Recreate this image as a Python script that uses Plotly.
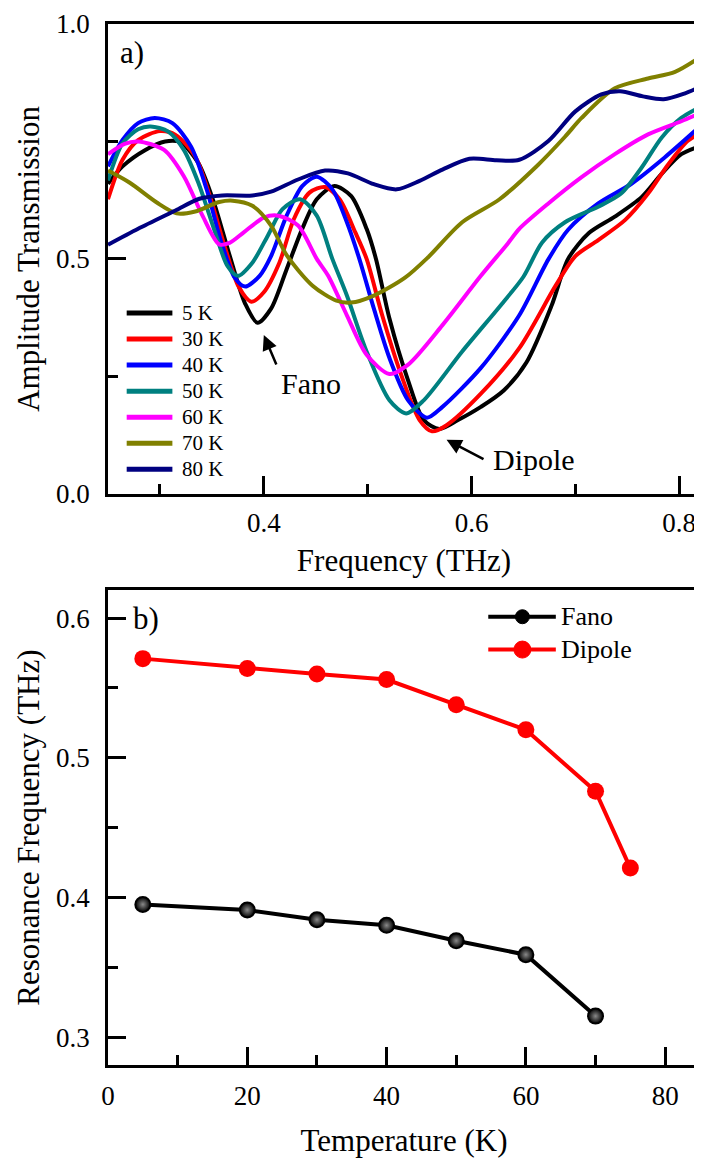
import plotly.graph_objects as go

# ---------------- Data: panel a) amplitude transmission ----------------
f_5K = [0.250, 0.264, 0.286, 0.305, 0.320, 0.337, 0.352, 0.367, 0.382, 0.394, 0.407, 0.422, 0.437, 0.451,
        0.468, 0.484, 0.499, 0.508, 0.521, 0.539, 0.554, 0.569, 0.587, 0.609, 0.631, 0.653, 0.677, 0.693,
        0.713, 0.738, 0.764, 0.783, 0.802, 0.820]
t_5K = [0.660, 0.697, 0.732, 0.750, 0.748, 0.704, 0.620, 0.508, 0.405, 0.364, 0.394, 0.478, 0.564, 0.627,
        0.655, 0.634, 0.564, 0.500, 0.373, 0.241, 0.157, 0.138, 0.157, 0.185, 0.220, 0.280, 0.400, 0.500,
        0.555, 0.590, 0.632, 0.681, 0.723, 0.740]

f_30K = [0.250, 0.264, 0.279, 0.300, 0.315, 0.334, 0.348, 0.363, 0.376, 0.388, 0.400, 0.415, 0.429, 0.444,
         0.459, 0.473, 0.488, 0.499, 0.514, 0.532, 0.550, 0.562, 0.576, 0.609, 0.646, 0.681, 0.700, 0.722,
         0.748, 0.770, 0.789, 0.808, 0.820]
t_30K = [0.627, 0.711, 0.753, 0.772, 0.764, 0.718, 0.634, 0.522, 0.440, 0.409, 0.429, 0.492, 0.585, 0.641,
         0.653, 0.627, 0.557, 0.500, 0.380, 0.255, 0.157, 0.133, 0.146, 0.213, 0.310, 0.443, 0.506, 0.540,
         0.583, 0.639, 0.700, 0.751, 0.767]

f_40K = [0.250, 0.264, 0.279, 0.295, 0.312, 0.330, 0.345, 0.359, 0.372, 0.382, 0.396, 0.407, 0.422, 0.437,
         0.451, 0.466, 0.480, 0.492, 0.506, 0.521, 0.539, 0.557, 0.572, 0.609, 0.646, 0.674, 0.693, 0.722,
         0.754, 0.786, 0.820]
t_40K = [0.697, 0.753, 0.789, 0.800, 0.789, 0.739, 0.648, 0.536, 0.460, 0.441, 0.464, 0.506, 0.592, 0.655,
         0.675, 0.648, 0.578, 0.500, 0.394, 0.289, 0.199, 0.162, 0.185, 0.268, 0.380, 0.499, 0.562, 0.618,
         0.660, 0.716, 0.782]

f_50K = [0.250, 0.264, 0.279, 0.291, 0.308, 0.323, 0.337, 0.352, 0.365, 0.375, 0.389, 0.404, 0.418, 0.435,
         0.451, 0.466, 0.480, 0.499, 0.521, 0.537, 0.554, 0.591, 0.628, 0.650, 0.668, 0.690, 0.722, 0.744,
         0.764, 0.783, 0.802, 0.820]
t_50K = [0.667, 0.746, 0.776, 0.782, 0.771, 0.732, 0.662, 0.564, 0.485, 0.464, 0.492, 0.550, 0.606, 0.627,
         0.592, 0.500, 0.422, 0.303, 0.199, 0.171, 0.199, 0.303, 0.401, 0.462, 0.535, 0.578, 0.611, 0.639,
         0.695, 0.758, 0.800, 0.823]

f_60K = [0.250, 0.266, 0.279, 0.304, 0.323, 0.341, 0.357, 0.367, 0.381, 0.400, 0.414, 0.433, 0.451, 0.462,
         0.480, 0.499, 0.521, 0.539, 0.572, 0.609, 0.635, 0.646, 0.674, 0.706, 0.738, 0.770, 0.802, 0.820]
t_60K = [0.723, 0.745, 0.750, 0.732, 0.676, 0.592, 0.531, 0.534, 0.557, 0.588, 0.592, 0.571, 0.500, 0.464,
         0.380, 0.296, 0.255, 0.275, 0.359, 0.464, 0.533, 0.564, 0.618, 0.674, 0.723, 0.765, 0.793, 0.810]

f_70K = [0.250, 0.271, 0.297, 0.316, 0.334, 0.357, 0.370, 0.389, 0.407, 0.422, 0.447, 0.470, 0.484, 0.506,
         0.536, 0.558, 0.591, 0.627, 0.664, 0.690, 0.706, 0.738, 0.770, 0.796, 0.820]
t_70K = [0.688, 0.662, 0.620, 0.597, 0.601, 0.621, 0.624, 0.613, 0.571, 0.508, 0.443, 0.411, 0.407, 0.422,
         0.460, 0.503, 0.578, 0.627, 0.700, 0.760, 0.800, 0.863, 0.884, 0.898, 0.929]

f_80K = [0.250, 0.279, 0.315, 0.338, 0.360, 0.389, 0.407, 0.433, 0.459, 0.481, 0.506, 0.528, 0.550, 0.572,
         0.598, 0.624, 0.646, 0.674, 0.700, 0.725, 0.743, 0.765, 0.785, 0.805, 0.820]
t_80K = [0.530, 0.564, 0.603, 0.628, 0.635, 0.635, 0.643, 0.669, 0.688, 0.682, 0.659, 0.648, 0.666, 0.690,
         0.713, 0.710, 0.711, 0.751, 0.814, 0.850, 0.857, 0.846, 0.840, 0.852, 0.866]

series_names = ["5 K", "30 K", "40 K", "50 K", "60 K", "70 K", "80 K"]
series_f = [f_5K, f_30K, f_40K, f_50K, f_60K, f_70K, f_80K]
series_t = [t_5K, t_30K, t_40K, t_50K, t_60K, t_70K, t_80K]
series_colors = ["#000000", "#ff0000", "#0000ff", "#008080", "#ff00ff", "#808000", "#000080"]

# ---------------- Data: panel b) resonance frequencies ----------------
temp_fano = [5, 20, 30, 40, 50, 60, 70]
freq_fano = [0.395, 0.391, 0.384, 0.380, 0.369, 0.359, 0.315]
temp_dipole = [5, 20, 30, 40, 50, 60, 70, 75]
freq_dipole = [0.571, 0.564, 0.560, 0.556, 0.538, 0.520, 0.476, 0.421]
modes = ["Fano", "Dipole"]
mode_colors = ["#000000", "#ff0000"]

FONT = "'Liberation Serif', 'DejaVu Serif', serif"

fig = go.Figure()

for name, fx, ty, col in zip(series_names, series_f, series_t, series_colors):
    fig.add_trace(go.Scatter(
        x=fx, y=ty, mode="lines", name=name, showlegend=False,
        line=dict(color=col, width=4, shape="spline", smoothing=0.8),
        xaxis="x", yaxis="y"))

fig.add_trace(go.Scatter(
    x=temp_fano, y=freq_fano, mode="lines+markers", name=modes[0], showlegend=False,
    line=dict(color=mode_colors[0], width=4),
    marker=dict(size=15, color=mode_colors[0], symbol="circle",
                gradient=dict(type="radial", color="#8a8a8a"),
                line=dict(color="#000000", width=2)),
    xaxis="x2", yaxis="y2"))
fig.add_trace(go.Scatter(
    x=temp_dipole, y=freq_dipole, mode="lines+markers", name=modes[1], showlegend=False,
    line=dict(color=mode_colors[1], width=4),
    marker=dict(size=17, color=mode_colors[1], symbol="circle"),
    xaxis="x2", yaxis="y2"))

# legend of panel a) (keys and labels)
leg_top = 0.385
leg_step = 0.0555
for i, (name, col) in enumerate(zip(series_names, series_colors)):
    yy = leg_top - i * leg_step
    fig.add_shape(type="line", xref="x", yref="y", x0=0.268, x1=0.312, y0=yy, y1=yy,
                  line=dict(color=col, width=5))
    fig.add_annotation(xref="x", yref="y", x=0.319, y=yy, text=name, showarrow=False,
                       xanchor="left", yanchor="middle",
                       font=dict(family=FONT, size=21, color="#000000"))

# legend of panel b) (keys and labels)
leg2_top = 0.601
leg2_step = 0.0235
for i, (name, col) in enumerate(zip(modes, mode_colors)):
    yy = leg2_top - i * leg2_step
    fig.add_shape(type="line", xref="x2", yref="y2", x0=54.6, x1=64.3, y0=yy, y1=yy,
                  line=dict(color=col, width=4))
    r = 7 if i == 0 else 8.5
    fig.add_shape(type="circle", xref="x2", yref="y2", xsizemode="pixel", ysizemode="pixel",
                  xanchor=59.5, yanchor=yy, x0=-r, x1=r, y0=-r, y1=r,
                  fillcolor=col, line=dict(color=col, width=1))
    fig.add_annotation(xref="x2", yref="y2", x=64.7, y=yy, text=name, showarrow=False,
                       xanchor="left", yanchor="middle",
                       font=dict(family=FONT, size=26, color="#000000"))

# arrows + labels
fig.add_annotation(xref="x", yref="y", axref="x", ayref="y", x=0.400, y=0.338, ax=0.4127, ay=0.272,
                   text="", showarrow=True, arrowhead=2, arrowsize=1.2, arrowwidth=2.5, arrowcolor="#000000")
fig.add_annotation(xref="x", yref="y", x=0.445, y=0.235, text="Fano", showarrow=False,
                   font=dict(family=FONT, size=30, color="#000000"))
fig.add_annotation(xref="x", yref="y", axref="x", ayref="y", x=0.576, y=0.115, ax=0.613, ay=0.072,
                   text="", showarrow=True, arrowhead=2, arrowsize=1.2, arrowwidth=2.5, arrowcolor="#000000")
fig.add_annotation(xref="x", yref="y", x=0.6605, y=0.073, text="Dipole", showarrow=False,
                   font=dict(family=FONT, size=30, color="#000000"))
fig.add_annotation(xref="x", yref="y", x=0.2595, y=0.94, text="a)", showarrow=False, xanchor="left",
                   font=dict(family=FONT, size=31, color="#000000"))
fig.add_annotation(xref="x2", yref="y2", x=3.3, y=0.6, text="b)", showarrow=False, xanchor="left",
                   font=dict(family=FONT, size=31, color="#000000"))

axis_common = dict(showline=True, linecolor="#000000", linewidth=2.5, mirror=True,
                   ticks="inside", ticklen=18, tickwidth=2.5, tickcolor="#000000",
                   showgrid=False, zeroline=False, automargin=False,
                   tickfont=dict(family=FONT, size=27, color="#000000"))
minor_common = dict(ticks="inside", ticklen=10, tickwidth=2.5, tickcolor="#000000")

# the page body adds an 8 px offset, so the figure is 8 px smaller than the window
fig.update_layout(
    width=694, height=1155,
    margin=dict(l=100, r=2, t=16, b=97.5),
    paper_bgcolor="#ffffff", plot_bgcolor="#ffffff",
    font=dict(family=FONT, color="#000000"),
    showlegend=False,
    xaxis=dict(**axis_common, domain=[0, 1], anchor="y", range=[0.25, 0.82],
               tick0=0, dtick=0.2, tickformat=".1f", ticklabelstandoff=3,
               minor=dict(**minor_common, dtick=0.1, tick0=0),
               title=dict(text="Frequency (THz)", font=dict(family=FONT, size=31), standoff=13)),
    yaxis=dict(**axis_common, domain=[0.5487, 1], anchor="x", range=[0, 1],
               tick0=0, dtick=0.5, tickformat=".1f", ticklabelstandoff=10,
               minor=dict(**minor_common, dtick=0.25, tick0=0),
               title=dict(text="Amplitude Transmission", font=dict(family=FONT, size=31), standoff=8)),
    xaxis2=dict(**axis_common, domain=[0, 1], anchor="y2", range=[0, 85],
                tick0=0, dtick=20, ticklabelstandoff=5,
                minor=dict(**minor_common, dtick=10, tick0=0),
                title=dict(text="Temperature (K)", font=dict(family=FONT, size=31), standoff=20)),
    yaxis2=dict(**axis_common, domain=[0, 0.4561], anchor="x2", range=[0.28, 0.62],
                tick0=0.3, dtick=0.1, tickformat=".1f", ticklabelstandoff=10,
                minor=dict(**minor_common, dtick=0.05, tick0=0.3),
                title=dict(text="Resonance Frequency (THz)", font=dict(family=FONT, size=31), standoff=8)),
)

fig.write_html("out.html")
